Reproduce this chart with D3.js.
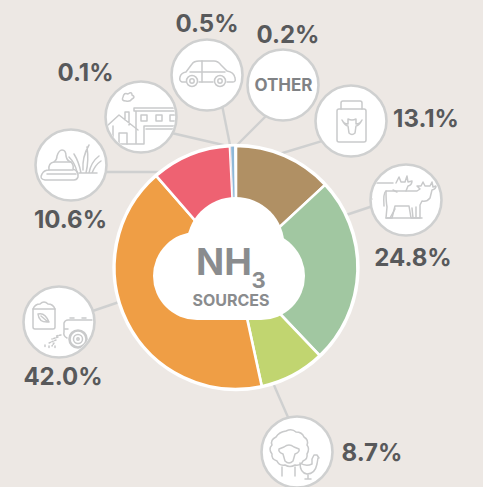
<!DOCTYPE html>
<html>
<head>
<meta charset="utf-8">
<script src="https://cdn.jsdelivr.net/npm/d3@7"></script>
<style>
  html, body { margin: 0; padding: 0; background: #ede8e4; }
  svg { display: block; }
</style>
</head>
<body>
<div id="chart"></div>
<script>
// shares of NH3 emissions, clockwise from 12 o'clock
var categories = ['Milk', 'Cattle', 'Sheep and poultry', 'Fertiliser', 'Manure', 'Buildings', 'Transport', 'Other'];
var shares = [13.1, 24.8, 8.7, 42.0, 10.6, 0.1, 0.5, 0.2];
var sliceColors = ['#b09064', '#a1c7a1', '#c1d570', '#ef9e45', '#ee6272', '#ee6272', '#8fb8d8', '#ffffff'];

var width = 483, height = 487;
var cx = 236, cy = 267.5, radius = 121.5;
var lineGrey = '#cfd0d0', iconGrey = '#c9cacb', labelGrey = '#58595b', titleGrey = '#8a8c8e';

// where each callout sits: bubble centre, leader start and end, label anchor
var callouts = {
	'Milk': {x: 351, y: 121, from: [330, 138.6], to: [276, 155], lx: 426, ly: 127},
	'Cattle': {x: 406, y: 200, from: [385, 202], to: [340, 217], lx: 413, ly: 266},
	'Sheep and poultry': {x: 297, y: 452, from: [297, 438], to: [270, 376], lx: 372, ly: 461},
	'Fertiliser': {x: 59, y: 322, from: [75, 317], to: [125, 300], lx: 63, ly: 385},
	'Manure': {x: 71, y: 165, from: [80, 172], to: [170, 172], lx: 70.5, ly: 228},
	'Buildings': {x: 141, y: 117, from: [150, 128], to: [232, 147], lx: 85.5, ly: 81},
	'Transport': {x: 207, y: 75, from: [217, 80], to: [231, 150], lx: 207, ly: 32},
	'Other': {x: 283, y: 85, from: [280, 102], to: [234, 148], lx: 288, ly: 43}
};

var svg = d3.select('#chart').append('svg')
	.attr('width', width)
	.attr('height', height)
	.style('background', '#ede8e4')
	.style('font-family', 'Inter, sans-serif');

var defs = svg.append('defs');

/**
 * Line icons, drawn in bubble coordinates (0,0 is the centre of the bubble)
 */
var icons = {
	'Milk': function(g) {
		g.append('path').attr('d', 'M-14 -10 Q-14 -12 -12 -12 H13 Q15 -12 15 -10 V19 Q15 21 13 21 H-12 Q-14 21 -14 19 Z');
		g.append('path').attr('d', 'M-10 -12 V-18 Q-10 -20 -8 -20 H9 Q11 -20 11 -18 V-12');
		g.append('path').attr('d', 'M-9 -1 Q-7 3 -3 3 L-3 -2 Q1 0 5 -2 L5 3 Q9 3 11 -1 Q8 5 5 5 L4 12 Q1 15 -2 12 L-3 5 Q-6 5 -9 -1 Z');
	},
	'Cattle': function(g) {
		// cow at the back
		g.append('path').attr('d', 'M-37 -17 H-13 M-37 -1 H-34 M-13 -10 L-9 -8 M-10 -17 L-7 -23 L-5 -18 H-1 L1 -24 L2 -18 L6 -19 Q6 -15 2 -14 L0 -9');
		// cow in front
		g.append('path').attr('d', 'M-20 -9 H11 L14 -11 L11 -14 L15 -14 L17 -18 L19 -14 H24 L26 -18 L27 -13 L30 -14 Q30 -11 26 -10 L24 -2 Q21 2 16 1 L14 5 V18 H5 L3 6 H-11 L-14 18 H-20 L-19 7 Q-20 2 -20 -9 Z');
		g.append('path').attr('d', 'M-20 -9 Q-23 -7 -22 6 M-20 18 H16 M-16 18 L-11 9 M7 18 L6 8 M10 18 V7');
	},
	'Sheep and poultry': function(g) {
		g.append('path').attr('d', 'M-11 -21 Q-5 -24 -1 -20 Q5 -20 7 -15 Q12 -12 10 -7 Q13 -3 10 2 Q11 7 6 9 Q4 14 -2 13 Q-7 16 -12 13 Q-18 14 -20 9 Q-26 7 -25 2 Q-29 -3 -25 -7 Q-27 -12 -21 -15 Q-18 -20 -11 -21 Z');
		g.append('path').attr('d', 'M-13 -5 Q-8 -9 -3 -5 L2 -3 Q3 0 -2 2 L-4 9 Q-8 13 -12 9 L-14 2 Q-19 0 -18 -3 Z');
		g.append('path').attr('d', 'M-15 15 V24 M-2 15 V24');
		g.append('path').attr('d', 'M3 11 Q3 21 10 22 Q18 22 20 12 L21 6 L22 6 L20 3 L17 3 L15 7 L15 12 Q9 15 3 11 Z M11 22 V27 M8 27 H14');
	},
	'Fertiliser': function(g) {
		g.append('path').attr('d', 'M-26 -13 H-4 V5 Q-4 7 -6 7 H-24 Q-26 7 -26 5 Z');
		g.append('path').attr('d', 'M-26 -13 Q-24 -18 -19 -18 Q-15 -22 -11 -18 Q-6 -18 -4 -13');
		g.append('path').attr('d', 'M-21 -8 Q-14 -10 -10 0 Q-20 1 -21 -8 Z M-18 -6 L-11 0');
		g.append('path').attr('d', 'M8 16 Q4 14 5 10 V1 Q6 -2 9 -2 H33 M11 -4 H15 M23 -4 H27 M5 7 H9');
		g.append('circle').attr('cx', 19).attr('cy', 17).attr('r', 8.5).style('stroke-width', 2.6);
		g.append('circle').attr('cx', 19).attr('cy', 17).attr('r', 4.5);
		g.append('circle').attr('cx', 19).attr('cy', 17).attr('r', 1.2);
		g.append('path').attr('d', 'M2 13 L-3 14 M-1 15 L-7 17 M-3 18 L-10 21 M-5 21 L-7 24 M-10 24 L-10 26 M-14 23 L-14 25 M-4 24 L-4 26').style('stroke-dasharray', '1.5 1.5');
	},
	'Manure': function(g) {
		g.append('path').attr('d', 'M-26 15 Q-32 14 -29 9 Q-27 5 -22 5 Q-23 -2 -17 -3 Q-14 -5 -14 -9 Q-12 -15 -9 -15 Q-5 -15 -5 -9 Q-4 -4 0 -3 Q3 0 2 4 Q8 6 7 12 Q6 15 3 15 Z');
		g.append('path').attr('d', 'M-22 5 H2 M-17 -3 H0 M-24 9 H5');
		g.append('path').attr('d', 'M-2 -8 Q4 -2 6 7 M3 -11 Q8 -3 10 8 M16 -18 Q18 -5 15 8 M18 -20 Q11 -8 12 5 M28 -9 Q20 -3 18 8 M30 -4 Q24 0 21 8 M8 8 H26');
	},
	'Buildings': function(g) {
		g.append('path').attr('d', 'M-7 -9 H36 M-7 -9 V-6 H36 M-5 -6 V27 M3 27 V9 H36 M5 12 H36 M-30 27 H3');
		g.append('path').attr('d', 'M-34 9 L-22 -2 L-3 13 M-28 9 V27 M-22 27 V16 H-14 V27 M-16 3 V-5 H-12 V8');
		g.append('path').attr('d', 'M0 -2 H6 V4 H0 Z M15 -2 H21 V4 H15 Z M29 -2 H35 V4 H29 Z');
		g.append('path').attr('d', 'M-15 -16 Q-20 -16 -18 -20 Q-17 -25 -13 -23 Q-9 -26 -9 -22 Q-5 -20 -9 -18 Q-11 -15 -15 -16 Z');
	},
	'Transport': function(g) {
		g.append('path').attr('d', 'M-21 7 H-25 Q-28 6 -27 2 Q-26 -2 -21 -3 L-15 -11 Q-13 -14 -8 -14 H7 Q11 -14 14 -10 L20 -4 Q27 -3 28 3 Q29 7 26 7 H20 M6 7 H-8');
		g.append('path').attr('d', 'M-17 -3 H18 M-5 -14 V7');
		g.append('circle').attr('cx', -15).attr('cy', 6).attr('r', 5.5);
		g.append('circle').attr('cx', -15).attr('cy', 6).attr('r', 2.2);
		g.append('circle').attr('cx', 13).attr('cy', 6).attr('r', 5.5);
		g.append('circle').attr('cx', 13).attr('cy', 6).attr('r', 2.2);
	}
};

// 1. Leaders go underneath everything
svg.append('g').selectAll('line').data(categories).enter().append('line')
	.attr('x1', function(d) {return callouts[d].from[0];})
	.attr('y1', function(d) {return callouts[d].from[1];})
	.attr('x2', function(d) {return callouts[d].to[0];})
	.attr('y2', function(d) {return callouts[d].to[1];})
	.style('stroke', lineGrey)
	.style('stroke-width', 2.4);

// 2. The donut
var pie = d3.pie().sort(null).value(function(d) {return d;});
var arc = d3.arc().innerRadius(0).outerRadius(radius);

svg.append('g')
	.attr('transform', 'translate(' + cx + ',' + cy + ')')
	.selectAll('path').data(pie(shares)).enter().append('path')
	.attr('d', arc)
	.style('fill', function(d, i) {return sliceColors[i];})
	.style('stroke', 'white')
	.style('stroke-width', function(d) {return d.value < 1 ? 0.6 : 2.6;});

svg.append('circle')
	.attr('cx', cx).attr('cy', cy).attr('r', radius + 1)
	.style('fill', 'none')
	.style('stroke', 'white')
	.style('stroke-width', 2.4);

// 3. The cloud in the middle
var cloud = svg.append('g').style('fill', 'white');
cloud.append('circle').attr('cx', 197).attr('cy', 276).attr('r', 44);
cloud.append('circle').attr('cx', 261).attr('cy', 276).attr('r', 44);
cloud.append('circle').attr('cx', 235.5).attr('cy', 246).attr('r', 49);
cloud.append('rect').attr('x', 197).attr('y', 260).attr('width', 64).attr('height', 60);

var title = svg.append('g').style('fill', titleGrey).style('font-weight', 700);
title.append('text').attr('x', 224).attr('y', 275).attr('text-anchor', 'middle').style('font-size', '37px').text('NH');
title.append('text').attr('x', 258.5).attr('y', 288).attr('text-anchor', 'middle').style('font-size', '22px').text('3');
title.append('text').attr('x', 231).attr('y', 306).attr('text-anchor', 'middle').style('font-size', '16px').text('SOURCES');

// 4. Bubbles with their icons
var bubbles = svg.append('g').selectAll('g').data(categories).enter().append('g')
	.attr('transform', function(d) {return 'translate(' + callouts[d].x + ',' + callouts[d].y + ')';});

bubbles.append('circle')
	.attr('r', 35.5)
	.style('fill', 'white')
	.style('stroke', lineGrey)
	.style('stroke-width', 2.6);

defs.append('clipPath').attr('id', 'bubbleClip').append('circle').attr('r', 34);

bubbles.each(function(d) {
	if (!icons[d]) return;
	var g = d3.select(this).append('g')
		.attr('clip-path', 'url(#bubbleClip)')
		.style('fill', 'none')
		.style('stroke', iconGrey)
		.style('stroke-width', 1.5)
		.style('stroke-linejoin', 'round')
		.style('stroke-linecap', 'round');
	icons[d](g);
});

svg.append('text')
	.attr('x', callouts['Other'].x + 0.5)
	.attr('y', 91)
	.attr('text-anchor', 'middle')
	.style('fill', '#808285')
	.style('font-weight', 700)
	.style('font-size', '17px')
	.text('OTHER');

// 5. Percent labels
var formatShare = d3.format('.1f');

svg.append('g').selectAll('text').data(categories).enter().append('text')
	.attr('x', function(d) {return callouts[d].lx;})
	.attr('y', function(d) {return callouts[d].ly;})
	.attr('text-anchor', 'middle')
	.style('fill', labelGrey)
	.style('font-weight', 700)
	.style('font-size', '24px')
	.text(function(d, i) {return formatShare(shares[i]) + '%';});
</script>
</body>
</html>
